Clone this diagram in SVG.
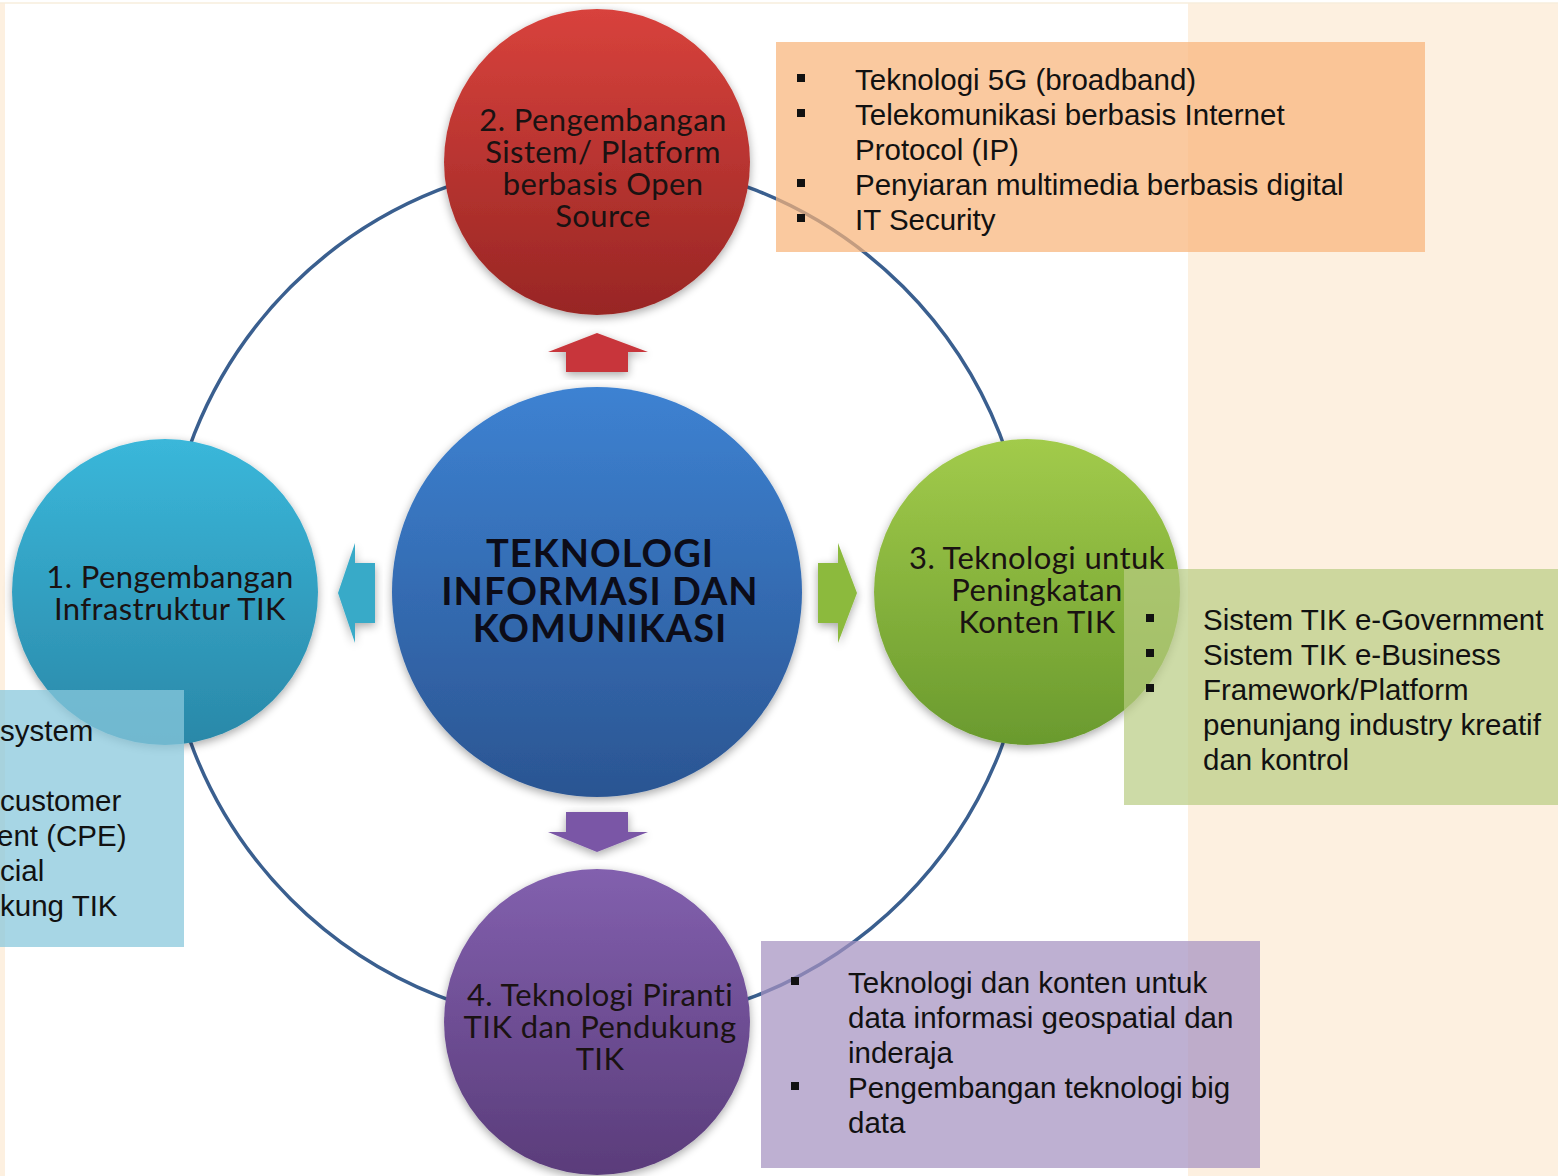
<svg xmlns="http://www.w3.org/2000/svg" width="1558" height="1176" viewBox="0 0 1558 1176">
<style>
.ct{font-family:Lato,"Open Sans",sans-serif;font-size:31px;letter-spacing:0.4px;fill:#1a1212;text-anchor:middle}
.cc{font-family:Lato,"Open Sans",sans-serif;font-size:38px;letter-spacing:1px;font-weight:bold;fill:#0c0c18;text-anchor:middle}
.bt{font-family:"Liberation Sans",Arial,sans-serif;font-size:29.5px;fill:#111}
.bul{fill:#111}
</style>
<defs>
<linearGradient id="gRed" x1="0" y1="0" x2="0" y2="1"><stop offset="0" stop-color="#d8423c"/><stop offset="1" stop-color="#982624"/></linearGradient>
<linearGradient id="gBlue" x1="0" y1="0" x2="0" y2="1"><stop offset="0" stop-color="#3d82d2"/><stop offset="1" stop-color="#2b5592"/></linearGradient>
<linearGradient id="gCyan" x1="0" y1="0" x2="0" y2="1"><stop offset="0" stop-color="#3ab7da"/><stop offset="1" stop-color="#2a88a8"/></linearGradient>
<linearGradient id="gGreen" x1="0" y1="0" x2="0" y2="1"><stop offset="0" stop-color="#a2cb4b"/><stop offset="1" stop-color="#6a9a2e"/></linearGradient>
<linearGradient id="gPurple" x1="0" y1="0" x2="0" y2="1"><stop offset="0" stop-color="#8260ae"/><stop offset="1" stop-color="#5a3c7a"/></linearGradient>
<filter id="sh" x="-20%" y="-20%" width="140%" height="140%"><feGaussianBlur in="SourceAlpha" stdDeviation="5"/><feOffset dy="3"/><feComponentTransfer><feFuncA type="linear" slope="0.35"/></feComponentTransfer><feMerge><feMergeNode/><feMergeNode in="SourceGraphic"/></feMerge></filter>
</defs>
<rect x="0" y="0" width="1558" height="1176" fill="#ffffff"/>
<rect x="1188" y="3" width="370" height="1173" fill="#fdf0e0"/>
<rect x="0" y="3" width="5" height="1173" fill="#fdf0e0"/>
<line x1="0" y1="3" x2="1558" y2="3" stroke="#f7eedc" stroke-width="1.5"/>

<g id="connectors">
<circle cx="597" cy="593" r="433" fill="none" stroke="#3a5f8f" stroke-width="3.5"/>
<polygon id="arrow-up" points="566,372 628,372 628,352 648,352 597,333 548,352 566,352" fill="#c8363a" filter="url(#sh)"/>
<polygon id="arrow-left" points="375,563 375,623 355,623 355,643 338,593 355,543 355,563" fill="#37aac8" filter="url(#sh)"/>
<polygon id="arrow-right" points="818,563 818,623 838,623 838,643 857,593 838,543 838,563" fill="#8cba3e" filter="url(#sh)"/>
<polygon id="arrow-down" points="566,812 628,812 628,832 648,832 597,852 548,832 566,832" fill="#7a56a6" filter="url(#sh)"/>
</g>

<g id="node-center">
<circle cx="597" cy="592" r="205" fill="url(#gBlue)" filter="url(#sh)"/>
<text class="cc" x="600" y="567">TEKNOLOGI</text>
<text class="cc" x="600" y="605">INFORMASI DAN</text>
<text class="cc" x="600" y="642">KOMUNIKASI</text>
</g>
<g id="node-2">
<circle cx="597" cy="162" r="153" fill="url(#gRed)" filter="url(#sh)"/>
<text class="ct" x="603" y="131" fill="#2a0c0c">2. Pengembangan</text>
<text class="ct" x="603" y="163">Sistem/ Platform</text>
<text class="ct" x="603" y="195">berbasis Open</text>
<text class="ct" x="603" y="227">Source</text>
</g>
<g id="node-1">
<circle cx="165" cy="592" r="153" fill="url(#gCyan)" filter="url(#sh)"/>
<text class="ct" x="170" y="588">1. Pengembangan</text>
<text class="ct" x="170" y="620">Infrastruktur TIK</text>
</g>
<g id="node-3">
<circle cx="1027" cy="592" r="153" fill="url(#gGreen)" filter="url(#sh)"/>
<text class="ct" x="1037" y="569">3. Teknologi untuk</text>
<text class="ct" x="1037" y="601">Peningkatan</text>
<text class="ct" x="1037" y="633">Konten TIK</text>
</g>
<g id="node-4">
<circle cx="597" cy="1022" r="153" fill="url(#gPurple)" filter="url(#sh)"/>
<text class="ct" x="600" y="1006">4. Teknologi Piranti</text>
<text class="ct" x="600" y="1038">TIK dan Pendukung</text>
<text class="ct" x="600" y="1070">TIK</text>
</g>

<g id="box-orange">
<rect x="776" y="42" width="649" height="210" fill="#f8b47a" fill-opacity="0.72"/>
<rect class="bul" x="797" y="74" width="8" height="8"/>
<rect class="bul" x="797" y="109" width="8" height="8"/>
<rect class="bul" x="797" y="179" width="8" height="8"/>
<rect class="bul" x="797" y="214" width="8" height="8"/>
<text class="bt" x="855" y="90">Teknologi 5G (broadband)</text>
<text class="bt" x="855" y="125">Telekomunikasi berbasis Internet</text>
<text class="bt" x="855" y="160">Protocol (IP)</text>
<text class="bt" x="855" y="195">Penyiaran multimedia berbasis digital</text>
<text class="bt" x="855" y="230">IT Security</text>
</g>
<g id="box-green">
<rect x="1124" y="569" width="434" height="236" fill="#b8cc82" fill-opacity="0.7"/>
<rect class="bul" x="1146" y="614" width="8" height="8"/>
<rect class="bul" x="1146" y="649" width="8" height="8"/>
<rect class="bul" x="1146" y="684" width="8" height="8"/>
<text class="bt" x="1203" y="630">Sistem TIK e-Government</text>
<text class="bt" x="1203" y="665">Sistem TIK e-Business</text>
<text class="bt" x="1203" y="700">Framework/Platform</text>
<text class="bt" x="1203" y="735">penunjang industry kreatif</text>
<text class="bt" x="1203" y="770">dan kontrol</text>
</g>
<g id="box-blue">
<rect x="0" y="690" width="184" height="257" fill="#8ac8dc" fill-opacity="0.75"/>
<text class="bt" x="0" y="741">system</text>
<text class="bt" x="0" y="811">customer</text>
<text class="bt" x="-3" y="846">ent (CPE)</text>
<text class="bt" x="0" y="881">cial</text>
<text class="bt" x="0" y="916">kung TIK</text>
</g>
<g id="box-purple">
<rect x="761" y="941" width="499" height="227" fill="#a592c0" fill-opacity="0.72"/>
<rect class="bul" x="791" y="977" width="8" height="8"/>
<rect class="bul" x="791" y="1082" width="8" height="8"/>
<text class="bt" x="848" y="993">Teknologi dan konten untuk</text>
<text class="bt" x="848" y="1028">data informasi geospatial dan</text>
<text class="bt" x="848" y="1063">inderaja</text>
<text class="bt" x="848" y="1098">Pengembangan teknologi big</text>
<text class="bt" x="848" y="1133">data</text>
</g>
</svg>
